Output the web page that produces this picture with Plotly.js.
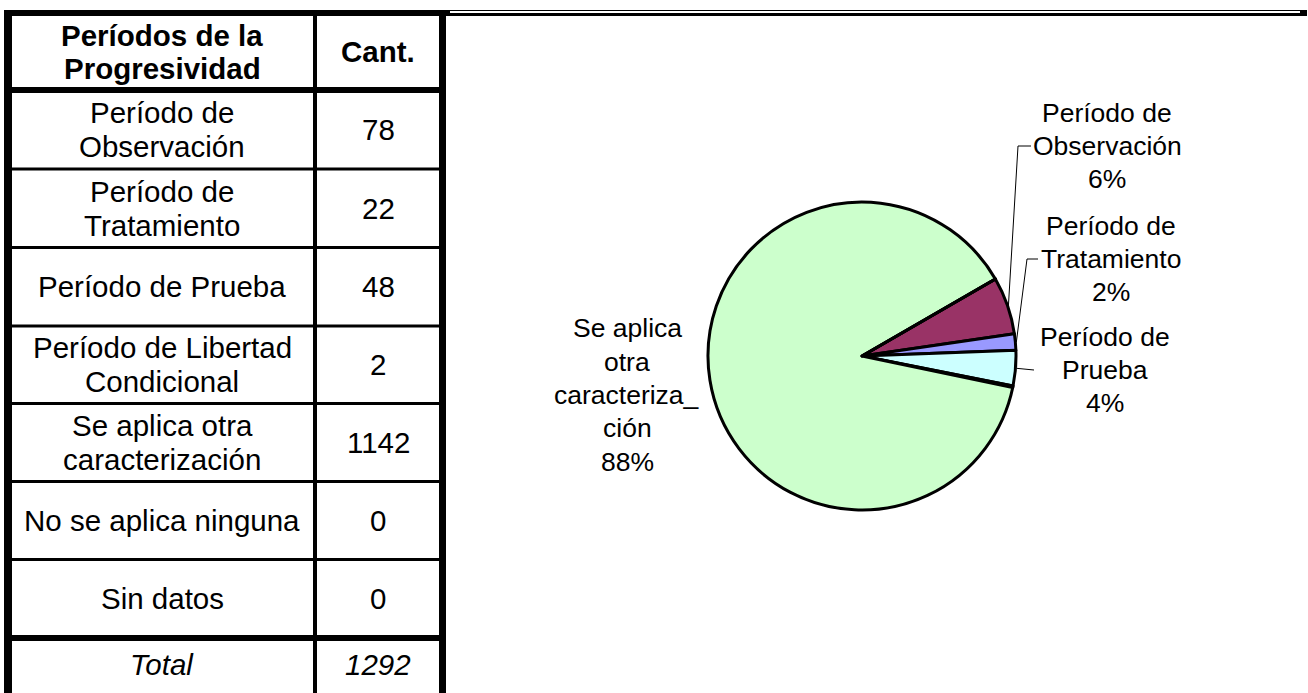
<!DOCTYPE html>
<html>
<head>
<meta charset="utf-8">
<script src="https://cdn.plot.ly/plotly-3.0.1.min.js"></script>
<style>html,body{margin:0;padding:0;background:#fff;}#chart{width:1308px;height:693px;}</style>
</head>
<body>
<div id="chart"></div>
<script>
// ---------- DATA ----------
const categories = ["Período de Observación", "Período de Tratamiento", "Período de Prueba",
  "Período de Libertad Condicional", "Se aplica otra caracterización", "No se aplica ninguna", "Sin datos"];
const counts = [78, 22, 48, 2, 1142, 0, 0];
const headerCol1 = ["Períodos de la", "Progresividad"];
const headerCol2 = ["Cant."];
const tableRowLines = [
  ["Período de", "Observación"],
  ["Período de", "Tratamiento"],
  ["Período de Prueba"],
  ["Período de Libertad", "Condicional"],
  ["Se aplica otra", "caracterización"],
  ["No se aplica ninguna"],
  ["Sin datos"]
];
const totalLabel = "Total";
const pieLabelLines = [
  ["Período de", "Observación"],
  ["Período de", "Tratamiento"],
  ["Período de", "Prueba"],
  null,
  ["Se aplica", "otra", "caracteriza_", "ción"],
  null,
  null
];

// ---------- STYLE / LAYOUT ----------
const W = 1308, H = 693;
const sliceColors = ["#993366", "#9999FF", "#CCFFFF", "#660066", "#CCFFCC", "#FFFFCC", "#FF8080"];
const FONT = "Liberation Sans, Arial, sans-serif";
const tableFont = 29.5, labelFont = 26.5;
const px = v => v / W;
const py = v => 1 - v / H;

const total = counts.reduce((a, b) => a + b, 0);

// pie geometry (pixels)
const pieCx = 862, pieCy = 356, pieR = 154, rotation = 60;

const shapes = [];
const annotations = [];
function rect(x0, x1, y0, y1, color) {
  shapes.push({type: "rect", xref: "paper", yref: "paper", x0: px(x0), x1: px(x1), y0: py(y1), y1: py(y0),
    fillcolor: color || "#000", line: {width: 0}, layer: "above"});
}
function text(str, x, y, opts) {
  opts = opts || {};
  annotations.push({xref: "paper", yref: "paper", x: px(x), y: py(y), text: str, showarrow: false,
    xanchor: "center", yanchor: "middle",
    font: {family: FONT, size: opts.size || tableFont, color: "#000"}});
}
function lines(arr, x, yc, spacing, opts) {
  const n = arr.length;
  arr.forEach((s, i) => text(s, x, yc + (i - (n - 1) / 2) * spacing, opts));
}

// table borders
const rowLinesY = [90, 169, 247.5, 326, 403.5, 481.5, 559.5, 638];
rect(4, 446, 10, 16);
rect(4, 12, 10, H);
rect(439, 446, 10, H);
rect(313, 317, 10, H);
rect(4, 446, 87, 93);
for (let i = 1; i < rowLinesY.length - 1; i++) rect(4, 446, rowLinesY[i] - 1.5, rowLinesY[i] + 1.5);
rect(4, 446, 635, 641);
// chart frame top line
rect(446, 1307, 10, 16);
rect(450, 1300, 11, 13, "#fff");

// table text
const col1X = 162, col2X = 378, lineSp = 34;
lines(headerCol1.map(s => "<b>" + s + "</b>"), col1X, 52, 33);
lines(headerCol2.map(s => "<b>" + s + "</b>"), col2X, 52, 33);
for (let i = 0; i < tableRowLines.length; i++) {
  const yc = (rowLinesY[i] + rowLinesY[i + 1]) / 2;
  lines(tableRowLines[i], col1X, yc, lineSp);
  text(String(counts[i]), col2X, yc);
}
text("<i>" + totalLabel + "</i>", col1X, 664);
text("<i>" + String(total) + "</i>", col2X, 664);

// pie labels
const pieLabelPos = [
  {x: 1107, y: 146, elbow: [1018, 146], end: [1031, 146]},
  {x: 1111, y: 259, elbow: [1027, 259], end: [1038, 259]},
  {x: 1105, y: 370, elbow: null, end: [1034, 370]},
  null,
  {x: 627, y: 395, elbow: null, end: null},
  null, null
];
let cum = 0;
counts.forEach((v, i) => {
  const mid = rotation + (cum + v / 2) / total * 360;
  cum += v;
  const lp = pieLabelPos[i];
  if (!lp || !pieLabelLines[i]) return;
  const pct = Math.round(v / total * 100) + "%";
  const all = pieLabelLines[i].concat([pct]);
  lines(all, lp.x, lp.y, 33.3, {size: labelFont});
  if (lp.end) {
    const a = mid * Math.PI / 180;
    const ex = pieCx + (pieR + 1) * Math.sin(a), ey = pieCy - (pieR + 1) * Math.cos(a);
    let path = "M" + px(ex) + "," + py(ey);
    if (lp.elbow) path += " L" + px(lp.elbow[0]) + "," + py(lp.elbow[1]);
    path += " L" + px(lp.end[0]) + "," + py(lp.end[1]);
    shapes.push({type: "path", xref: "paper", yref: "paper", path: path, line: {color: "#000", width: 1}, layer: "above"});
  }
});

const trace = {
  type: "pie",
  labels: categories,
  values: counts,
  sort: false,
  direction: "clockwise",
  rotation: rotation,
  textinfo: "none",
  hoverinfo: "label+value+percent",
  marker: {colors: sliceColors, line: {color: "#000", width: 3}},
  domain: {x: [px(pieCx - pieR), px(pieCx + pieR)], y: [py(pieCy + pieR), py(pieCy - pieR)]},
  showlegend: false
};

Plotly.newPlot("chart", [trace], {
  width: W, height: H,
  margin: {l: 0, r: 0, t: 0, b: 0},
  paper_bgcolor: "#fff",
  showlegend: false,
  shapes: shapes,
  annotations: annotations
}, {staticPlot: true});
</script>
</body>
</html>
